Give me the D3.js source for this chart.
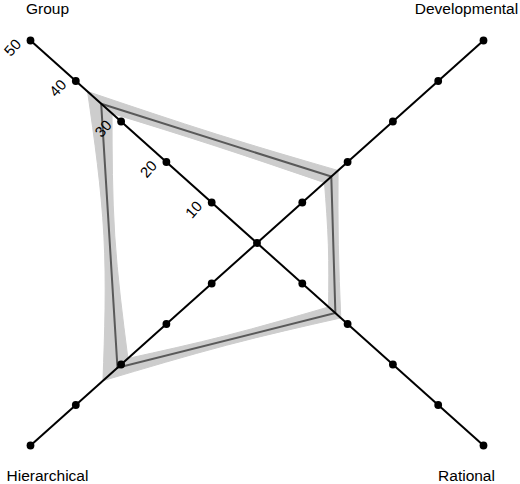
<!DOCTYPE html>
<html>
<head>
<meta charset="utf-8">
<script src="https://cdn.jsdelivr.net/npm/d3@7"></script>
<style>
  body { margin: 0; background: #fff; }
  svg { display: block; font-family: "Liberation Sans", Arial, Helvetica, sans-serif; }
</style>
</head>
<body>
<script>
// data
var categories = ["Group", "Developmental", "Rational", "Hierarchical"];
var means = [34.4, 16.4, 17.3, 30.8];
var lower = [32.0, 14.9, 15.8, 28.5];
var upper = [37.4, 17.9, 18.5, 34.0];
// half width of the band half way along each edge (i -> i+1)
var midSpread = [1.5, 1.1, 1.2, 1.2];
var ticks = [10, 20, 30, 40, 50];

var width = 520, height = 484;
var cx = 257, cy = 243;

// each axis goes out on a diagonal
var dirs = [[-1, -1], [1, -1], [1, 1], [-1, 1]];

var sx = d3.scaleLinear().domain([0, 50]).range([0, 226.5]);
var sy = d3.scaleLinear().domain([0, 50]).range([0, 202.5]);

function pt(i, v) {
    return [cx + dirs[i][0] * sx(v), cy + dirs[i][1] * sy(v)];
}
function mid(a, b) {
    return [(a[0] + b[0]) / 2, (a[1] + b[1]) / 2];
}

var svg = d3.select("body")
    .append("svg")
        .attr("width", width)
        .attr("height", height);

// confidence band, one piece per edge
var curve = d3.line().curve(d3.curveNatural);
var n = categories.length;
var bandG = svg.append("g");
for (var i = 0; i < n; i++) {
    var j = (i + 1) % n;
    var outer = [pt(i, upper[i]),
                 mid(pt(i, means[i] + midSpread[i]), pt(j, means[j] + midSpread[i])),
                 pt(j, upper[j])];
    var inner = [pt(j, lower[j]),
                 mid(pt(j, means[j] - midSpread[i]), pt(i, means[i] - midSpread[i])),
                 pt(i, lower[i])];
    var d = curve(outer) + curve(inner).replace(/^M/, "L") + "Z";
    bandG.append("path")
        .attr("d", d)
        .attr("fill", "#cdcdcd")
        .attr("stroke", "#cdcdcd")
        .attr("stroke-width", 1);
}

// mean line
var valueline = d3.line().curve(d3.curveLinearClosed);
svg.append("path")
    .attr("d", valueline(means.map(function(v, i) { return pt(i, v); })))
    .attr("fill", "none")
    .attr("stroke", "#595959")
    .attr("stroke-width", 2);

// axes
categories.forEach(function(c, i) {
    var e = pt(i, 50);
    svg.append("line")
        .attr("x1", cx).attr("y1", cy)
        .attr("x2", e[0]).attr("y2", e[1])
        .attr("stroke", "#000")
        .attr("stroke-width", 2);
});

// dots
svg.append("circle").attr("cx", cx).attr("cy", cy).attr("r", 3.9).attr("fill", "#000");
categories.forEach(function(c, i) {
    svg.selectAll(null)
        .data(ticks)
        .enter().append("circle")
            .attr("cx", function(t) { return pt(i, t)[0]; })
            .attr("cy", function(t) { return pt(i, t)[1]; })
            .attr("r", 3.9)
            .attr("fill", "#000");
});

// tick labels on the Group axis
svg.selectAll(null)
    .data(ticks)
    .enter().append("text")
        .attr("transform", function(t) {
            var p = pt(0, t);
            return "translate(" + (p[0] - 18) + "," + (p[1] + 7) + ") rotate(-48)";
        })
        .attr("text-anchor", "middle")
        .attr("dy", "0.35em")
        .attr("font-size", 15)
        .text(function(t) { return t; });

// axis names
categories.forEach(function(c, i) {
    var e = pt(i, 50);
    svg.append("text")
        .attr("x", e[0] - dirs[i][0] * 17)
        .attr("y", dirs[i][1] < 0 ? 14 : 481)
        .attr("text-anchor", "middle")
        .attr("font-size", 15.5)
        .text(c);
});
</script>
</body>
</html>
